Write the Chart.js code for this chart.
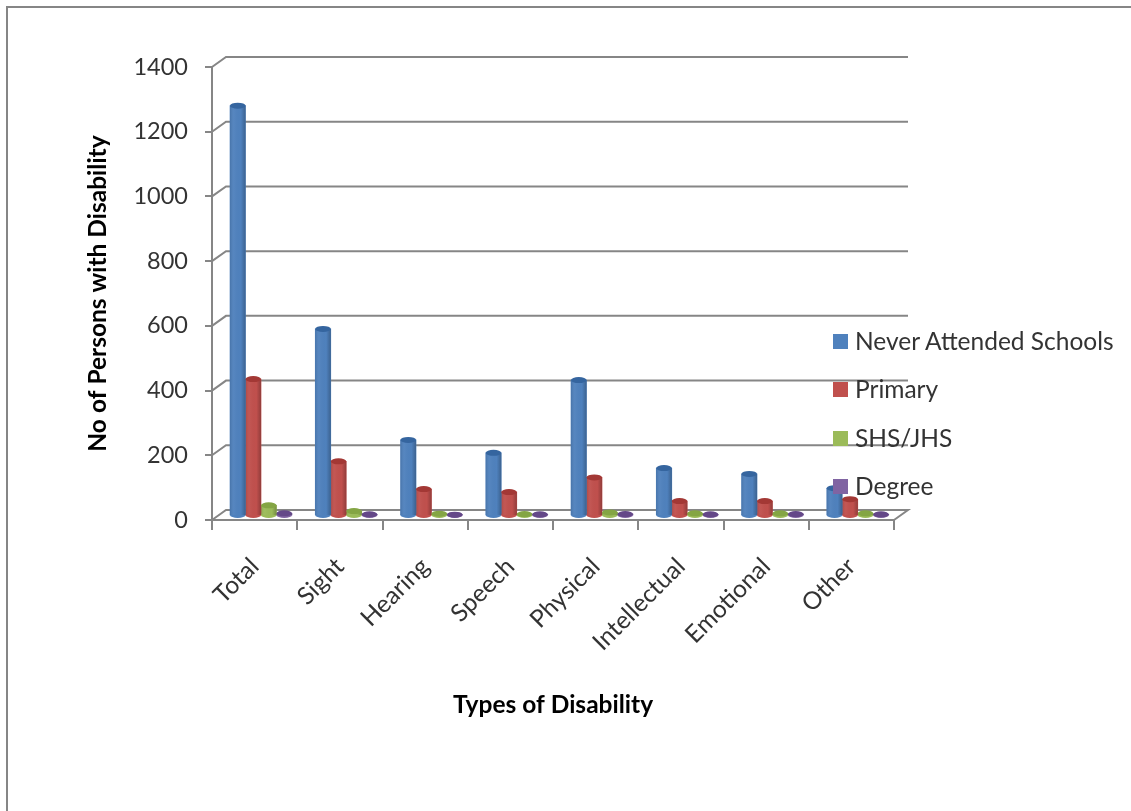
<!DOCTYPE html>
<html>
<head>
<meta charset="utf-8">
<style>
  html, body { margin: 0; padding: 0; background: #fff; overflow: hidden; }
  #wrap { position: relative; width: 1131px; height: 811px; }
  #frame { position: absolute; left: 6px; top: 6px; width: 1125px; height: 805px; box-sizing: border-box; border-left: 2px solid #868686; border-top: 2px solid #868686; }
  #legend { position: absolute; left: 833px; top: 334px; font: 24.5px/30px Lato, sans-serif; color: #333; }
  #legend div { position: absolute; white-space: nowrap; }
  #legend i { position: absolute; left: 0; top: 0; width: 15px; height: 15px; }
  #legend span { position: absolute; left: 22px; top: -8px; }
</style>
<script src="https://cdn.jsdelivr.net/npm/chart.js@4"></script>
</head>
<body>
<div id="wrap">
  <div id="frame"></div>
  <canvas id="chart" width="1131" height="811"></canvas>
  <div id="legend"></div>
</div>
<script>
const categories = ["Total","Sight","Hearing","Speech","Physical","Intellectual","Emotional","Other"]
const seriesNames = ["Never Attended Schools","Primary","SHS/JHS","Degree"]
const neverAttended = [1265,575,232,192,417,145,127,83]
const primary = [420,166,80,71,116,43,43,49]
const shsJhs = [30,12,4,3,8,5,5,5]
const degree = [5,2,1,2,3,2,3,2]
const yTicks = [0,200,400,600,800,1000,1200,1400]
const colors = ["#4f81bd","#c0504d","#9bbb59","#8064a2"]
const topColors = ["#35659f","#a33835","#84a544","#644888"]
const gray = "#868686"

// the 3D look: back wall sits up and to the right of the front axes
const wallDx = 14
const wallDy = -10

const toPoints = arr => arr.map((v,i)=> ({ x:i, y:v }))
const allSeries = [neverAttended,primary,shsJhs,degree]

const backWall = {
  id:"backWall",
  beforeDatasetsDraw(chart){
    const { ctx } = chart
    const xs = chart.scales.x
    const ys = chart.scales.y
    ctx.save()
    ctx.strokeStyle = gray
    ctx.lineWidth = 2
    yTicks.forEach(t=>{
      const y = ys.getPixelForValue(t)
      ctx.beginPath()
      ctx.moveTo(xs.left,y)
      ctx.lineTo(xs.left+wallDx,y+wallDy)
      ctx.lineTo(xs.right+wallDx,y+wallDy)
      if (t===0) ctx.lineTo(xs.right,y)
      ctx.stroke()
    })
    ctx.restore()
  }
}

// rounds the flat bars off into cylinders
const cylinders = {
  id:"cylinders",
  afterDatasetsDraw(chart){
    const { ctx } = chart
    chart.data.datasets.forEach((ds,d)=>{
      chart.getDatasetMeta(d).data.forEach(bar=>{
        const w = bar.width
        const left = bar.x-w/2
        const ry = 3
        ctx.save()
        // bottom cap
        ctx.fillStyle = colors[d]
        ctx.beginPath()
        ctx.ellipse(bar.x,bar.base,w/2,ry,0,0,Math.PI*2)
        ctx.fill()
        // side shading
        const g = ctx.createLinearGradient(left,0,left+w,0)
        g.addColorStop(0,"rgba(0,0,0,0.1)")
        g.addColorStop(0.25,"rgba(255,255,255,0.04)")
        g.addColorStop(0.7,"rgba(0,0,0,0)")
        g.addColorStop(1,"rgba(0,0,0,0.24)")
        ctx.fillStyle = g
        ctx.fillRect(left,bar.y,w,bar.base-bar.y)
        // top cap
        ctx.fillStyle = topColors[d]
        ctx.beginPath()
        ctx.ellipse(bar.x,bar.y,w/2,ry,0,0,Math.PI*2)
        ctx.fill()
        ctx.restore()
      })
    })
  }
}

new Chart(document.getElementById("chart"),{
  type:"bar",
  data:{
    labels:categories,
    datasets:seriesNames.map((name,i)=>({
      label:name,
      data:toPoints(allSeries[i]),
      backgroundColor:colors[i],
      barThickness:15.5,
      xAxisID:"xBars",
      yAxisID:"yBars"
    }))
  },
  options:{
    responsive:false,
    animation:false,
    layout:{ padding:{ left:0, right:237, top:67, bottom:0 } },
    plugins:{ legend:{ display:false }, tooltip:{ enabled:false } },
    scales:{
      x:{
        type:"category",
        afterFit(s){ s.height = 291 },
        border:{ color:gray, width:2 },
        grid:{ offset:true, drawOnChartArea:false, color:gray, lineWidth:2, tickLength:10 },
        ticks:{ autoSkip:false, minRotation:45, maxRotation:45, color:"#333", padding:22, font:{ family:"Lato", size:24.5 } },
        title:{ display:true, text:"Types of Disability", color:"#000", padding:{ top:0, bottom:91 }, font:{ family:"Lato", size:24.5, weight:"bold" } }
      },
      y:{
        type:"linear",
        min:0,
        max:1400,
        afterFit(s){ s.width = 212 },
        afterBuildTicks(s){ s.ticks = yTicks.map(v=>({ value:v })) },
        border:{ color:gray, width:2 },
        grid:{ drawOnChartArea:false, color:gray, lineWidth:2, tickLength:7 },
        ticks:{ color:"#333", padding:17, font:{ family:"Lato", size:23.5 }, callback:v=> String(v) },
        title:{ display:true, text:"No of Persons with Disability", color:"#000", padding:{ top:83, bottom:0 }, font:{ family:"Lato", size:24.5, weight:"bold" } }
      },
      // bars stand mid-way into the floor, so they get their own shifted scales
      xBars:{ type:"linear", display:false, offset:false, min:-0.575, max:7.425 },
      yBars:{ type:"linear", display:false, min:-15.5, max:1384.5 }
    }
  },
  plugins:[backWall,cylinders]
})

const legendEl = document.getElementById("legend")
seriesNames.forEach((name,i)=>{
  const row = document.createElement("div")
  row.style.top = (i*48.4)+"px"
  row.innerHTML = `<i style="background:${colors[i]}"></i><span>${name}</span>`
  legendEl.appendChild(row)
})
</script>
</body>
</html>
